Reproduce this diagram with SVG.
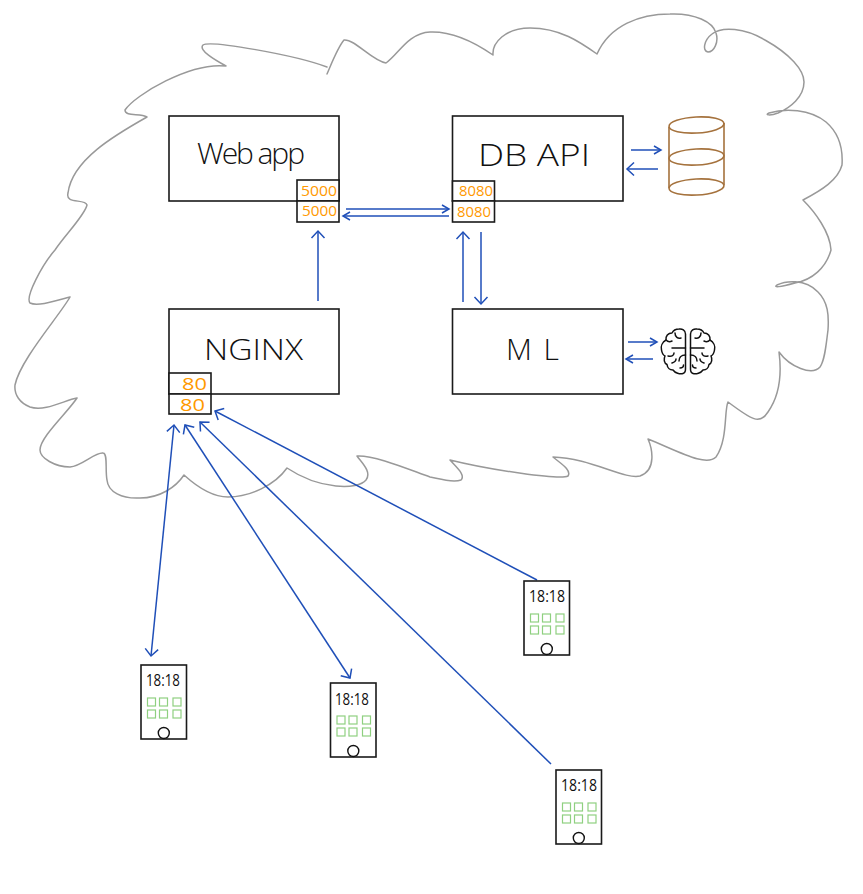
<svg xmlns="http://www.w3.org/2000/svg" xmlns:xlink="http://www.w3.org/1999/xlink" width="863" height="894" viewBox="0 0 863 894">
<style>
.box{fill:#fff;stroke:#1a1a1a;stroke-width:1.6}
.cloud{fill:none;stroke:#999;stroke-width:1.5;stroke-linejoin:round;stroke-linecap:round}
.lbl{font-family:"Open Sans","Liberation Sans",sans-serif;fill:#111;font-weight:300}
.port{font-family:"Open Sans","Liberation Sans",sans-serif;fill:#ff9900;font-weight:400;font-size:14px}
.time{font-family:"Open Sans","Liberation Sans",sans-serif;fill:#111;font-size:17px}
.arr{fill:none;stroke:#1f4fb8;stroke-width:1.5}
.sq{fill:none;stroke:#8fd080;stroke-width:1.2}
.cyl{fill:none;stroke:#a5723d;stroke-width:1.6}
.brain{fill:none;stroke:#111;stroke-width:1.5;stroke-linecap:round;stroke-linejoin:round}
</style>
<defs>
<marker id="h" viewBox="-10 -8 12 16" refX="0" refY="0" markerWidth="12" markerHeight="16" markerUnits="userSpaceOnUse" orient="auto-start-reverse">
<path d="M-7 -6.500 L0 0 L-7 6.500" fill="none" stroke="#1f4fb8" stroke-width="1.5"/>
</marker>
<marker id="s" viewBox="-10 -8 12 16" refX="0" refY="0" markerWidth="12" markerHeight="16" markerUnits="userSpaceOnUse" orient="auto-start-reverse">
<path d="M-7 -4 L0 0 L-7 4" fill="none" stroke="#1f4fb8" stroke-width="1.5"/>
</marker>
<g id="hemi">
<path d="M685.500 334C685.500 330 682 328.500 679 329C675 329 673 331 672 333C668 333 665.500 336 666 340C662.500 342 660.500 346 661.500 350C662 353 663 355 665 356C663.500 359 664 363 667 364.500C667.500 368 670 370 673 370C675 373 680 374.500 683 373.500C685 373 685.500 371 685.500 369Z"/>
<path d="M685.500 348H672M675 333C675 337 678 339 681 338M666 340C668 342 670 342 672 341M668 356C672 357 674 355 674 353M685.500 355C681 355 679 358 679 361M672 363C675 362 676 360 676 359M680 368C682 368 683.500 367 683.500 365"/>
</g>
<g id="phone">
<rect class="box" x="0" y="0" width="45.500" height="74"/>
<rect class="sq" x="6.500" y="33" width="8" height="8"/><rect class="sq" x="18.500" y="33" width="8" height="8"/><rect class="sq" x="32" y="33" width="8" height="8"/>
<rect class="sq" x="6.500" y="45" width="8" height="8"/><rect class="sq" x="18.500" y="45" width="8" height="8"/><rect class="sq" x="32" y="45" width="8" height="8"/>
<circle cx="22.800" cy="68" r="5.500" fill="#fff" stroke="#111" stroke-width="1.400"/>
</g>
</defs>
<rect width="863" height="894" fill="#fff"/>
<path id="cloud" class="cloud" d="M327 74C333 60 338 47 344 40C355 39 372 61 386 63C398 55 408 33 430 32C455 31 480 46 493 55C492 43 505 28 530 28C560 28 580 42 597 54C610 25 640 14 670 14C695 13 713 22 716 33C719 42 714 52 708 52C702 51 704 40 712 34C722 26 745 28 765 40C790 54 804 70 804 82C804 97 790 108 778 113C770 116 764 115 769 113C785 108 810 109 826 122C840 134 843 150 842 165C838 180 822 190 803 200C815 212 830 232 831 250C826 268 812 280 795 283C780 287 773 288 777 285C785 281 805 278 818 292C828 302 829 315 828 330C826 345 825 360 820 367C812 376 790 367 779 352C782 375 780 395 768 412C760 425 752 420 728 402C724 410 728 440 716 457C706 467 680 452 648 439C652 448 657 470 640 476C625 480 590 458 553 457C560 463 572 470 568 476C560 480 490 470 450 460C456 467 466 475 461 480C452 483 440 479 430 477C410 470 375 455 357 456C362 463 372 472 366 480C358 490 320 490 287 468C275 485 250 497 228 497C212 497 195 485 184 475C176 487 160 498 140 498C122 499 108 492 107 480C105 470 108 453 103 453C95 452 82 466 70 467C55 467 40 458 40 450C40 437 68 412 77 398C65 400 45 412 30 407C20 403 14 395 15 385C20 360 60 315 70 297C58 300 38 307 30 303C25 297 42 265 55 250C65 235 85 215 87 205C85 198 65 205 68 193C72 160 115 135 147 117C140 113 125 117 125 110C135 95 190 62 226 66C215 60 198 50 203 45C210 40 295 55 327 67"/>
<g id="connectors">
<path class="arr" marker-end="url(#s)" d="M346 209H449"/>
<path class="arr" marker-end="url(#s)" d="M449 216H343"/>
<path class="arr" marker-end="url(#h)" d="M318 301V231"/>
<path class="arr" marker-end="url(#h)" d="M463 302V232"/>
<path class="arr" marker-end="url(#h)" d="M481 232V304"/>
<path class="arr" marker-end="url(#s)" d="M631 150H661"/>
<path class="arr" marker-end="url(#h)" d="M658 169H627"/>
<path class="arr" marker-end="url(#s)" d="M628 342H657"/>
<path class="arr" marker-end="url(#s)" d="M653 359H626"/>
<path class="arr" marker-start="url(#h)" marker-end="url(#h)" d="M151 656L174 425"/>
<path class="arr" marker-start="url(#h)" marker-end="url(#h)" d="M350 678L185 425"/>
<path class="arr" marker-end="url(#h)" d="M551 764L200 422"/>
<path class="arr" marker-end="url(#h)" d="M537 580L215 411"/>
</g>
<g id="webapp">
<rect class="box" x="169" y="116" width="170" height="85"/>
<text class="lbl" x="197" y="164" font-size="30" textLength="108">Web app</text>
<rect class="box" x="297" y="180" width="42" height="21"/><rect class="box" x="297" y="201" width="42" height="21"/>
<text class="port" x="301" y="196" textLength="36" lengthAdjust="spacingAndGlyphs">5000</text><text class="port" x="302" y="216" textLength="35" lengthAdjust="spacingAndGlyphs">5000</text>
</g>
<g id="dbapi">
<rect class="box" x="452.500" y="116" width="170.500" height="85"/>
<text class="lbl" x="478" y="166" font-size="31" textLength="112" lengthAdjust="spacingAndGlyphs">DB API</text>
<rect class="box" x="452.500" y="181" width="42" height="20"/><rect class="box" x="452.500" y="201" width="42" height="21"/>
<text class="port" x="459" y="196" textLength="34" lengthAdjust="spacingAndGlyphs">8080</text><text class="port" x="457" y="217" textLength="34" lengthAdjust="spacingAndGlyphs">8080</text>
</g>
<g id="nginx">
<rect class="box" x="169" y="309" width="170" height="85"/>
<text class="lbl" x="204" y="360" font-size="30" textLength="99" lengthAdjust="spacingAndGlyphs">NGINX</text>
<rect class="box" x="169" y="373" width="42" height="21"/><rect class="box" x="169" y="394" width="42" height="20"/>
<text class="port" x="182" y="390" style="font-size:17px" textLength="25" lengthAdjust="spacingAndGlyphs">80</text><text class="port" x="180" y="411" style="font-size:17px" textLength="25" lengthAdjust="spacingAndGlyphs">80</text>
</g>
<g id="ml">
<rect class="box" x="452.500" y="309" width="170.500" height="85"/>
<text class="lbl" x="506" y="360" font-size="30" textLength="53">M L</text>
</g>
<g id="database">
<path class="cyl" d="M669 127V188M724 123V185"/>
<ellipse class="cyl" cx="696.500" cy="125" rx="27.500" ry="8" transform="rotate(-3 696.500 125)"/>
<ellipse class="cyl" cx="696.500" cy="157" rx="27.500" ry="8" transform="rotate(-3 696.500 157)"/>
<ellipse class="cyl" cx="696.500" cy="187" rx="27.500" ry="8" transform="rotate(-3 696.500 187)"/>
</g>
<g id="brain" class="brain">
<use xlink:href="#hemi" href="#hemi"/>
<use xlink:href="#hemi" href="#hemi" transform="translate(1376 0) scale(-1 1)"/>
</g>
<g id="phone1"><use href="#phone" x="141" y="665"/><text class="time" x="146" y="686" textLength="34" lengthAdjust="spacingAndGlyphs">18:18</text></g>
<g id="phone2"><use href="#phone" x="330.500" y="683"/><text class="time" x="335" y="705" textLength="34" lengthAdjust="spacingAndGlyphs">18:18</text></g>
<g id="phone3"><use href="#phone" x="524" y="581"/><text class="time" x="529" y="602" textLength="36" lengthAdjust="spacingAndGlyphs">18:18</text></g>
<g id="phone4"><use href="#phone" x="556" y="770"/><text class="time" x="561" y="791" textLength="36" lengthAdjust="spacingAndGlyphs">18:18</text></g>
</svg>
